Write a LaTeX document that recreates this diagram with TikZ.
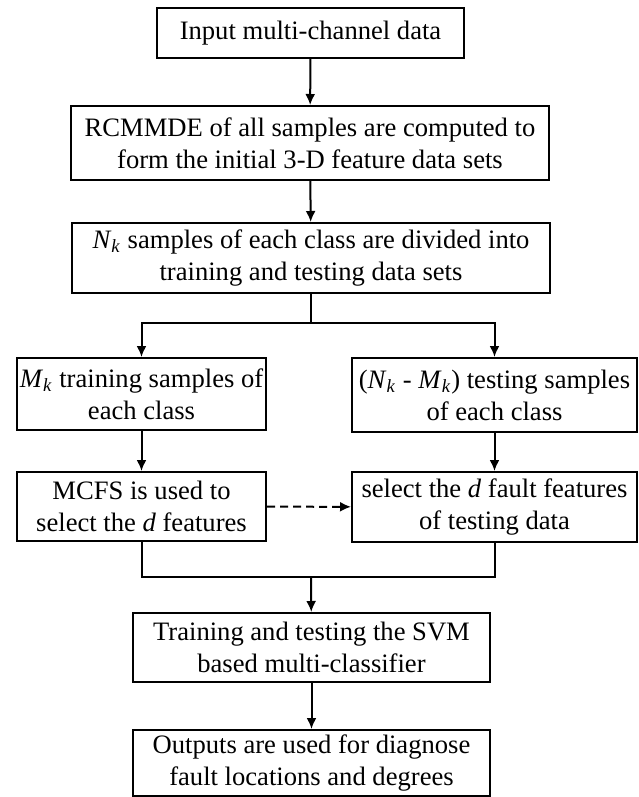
\documentclass[tikz,border=0pt]{standalone}
\usepackage{fontspec}
\setmainfont{Liberation Serif}
\usepackage{tikz}
\usetikzlibrary{arrows.meta}
\tikzstyle{block} = [draw, line width=1pt, align=center, inner sep=0pt, font=\fontsize{13.3}{16}\selectfont]
\tikzstyle{link} = [line width=1pt, -{Latex[length=5.5pt,width=5pt]}]
\newcommand{\Nk}{\textit{N}\textsubscript{\textit{k}}}
\newcommand{\Mk}{\textit{M}\textsubscript{\textit{k}}}

\begin{document}
\begin{tikzpicture}[x=0.5pt,y=-0.5pt]
			\useasboundingbox (0,0) rectangle (638,797);
			\node[block, minimum width=153.5pt, minimum height=25pt] (input) at (310.5,33) {Input multi-channel data};
			\node[block, minimum width=239pt, minimum height=37pt] (entropy) at (310,143) {RCMMDE of all samples are computed to\\form the initial 3-D feature data sets};
			\node[block, minimum width=239pt, minimum height=35pt] (divide) at (311,258) {\Nk{} samples of each class are divided into\\training and testing data sets};
			\node[block, minimum width=124.5pt, minimum height=36pt] (train) at (141.5,394) {\Mk{} training samples of\\each class};
			\node[block, minimum width=142.5pt, minimum height=37pt] (test) at (494.5,395) {(\Nk{} - \Mk) testing samples\\of each class};
			\node[block, minimum width=124.5pt, minimum height=34.5pt] (mcfs) at (141.5,506.5) {MCFS is used to\\select the \textit{d} features};
			\node[block, minimum width=142.5pt, minimum height=35pt] (select) at (494.5,507) {select the \textit{d} fault features\\of testing data};
			\node[block, minimum width=178.5pt, minimum height=34.5pt] (svm) at (311.5,647.5) {Training and testing the SVM\\based multi-classifier};
			\node[block, minimum width=178.5pt, minimum height=33pt] (output) at (311.5,763) {Outputs are used for diagnose\\fault locations and degrees};
			\draw[link] (input) -- (entropy);
			\draw[link] (entropy) -- (divide);
			\draw[line width=1pt] (divide.south) -- (311,323) coordinate (split);
			\draw[link] (split) -| (train.north);
			\draw[link] (split) -| (test.north);
			\draw[link] (train) -- (mcfs);
			\draw[link] (test) -- (select);
			\draw[link, dash pattern=on 4pt off 2.5pt] (mcfs) -- (select);
			\coordinate (merge) at (311,577);
			\draw[line width=1pt] (mcfs.south) |- (merge) -| (select.south);
			\draw[link] (merge) -- (svm);
			\draw[link] (svm) -- (output);
		\end{tikzpicture}
\end{document}
